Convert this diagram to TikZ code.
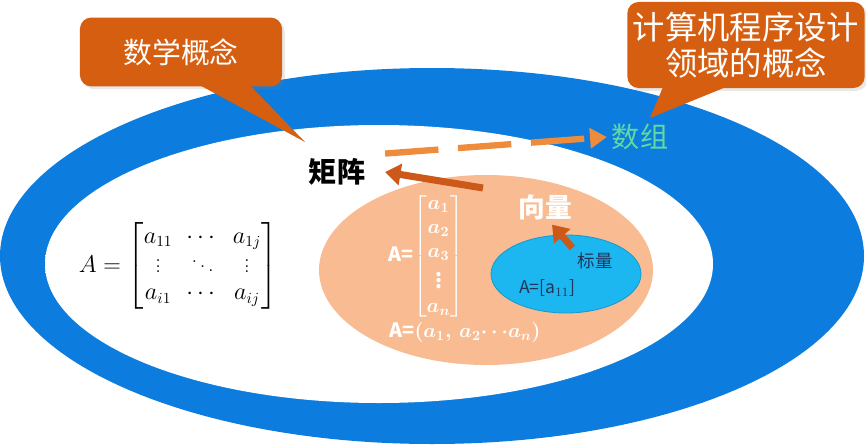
\documentclass[tikz,border=0pt]{standalone}
\usepackage{amsmath}
\usepackage{fontspec}
\newfontfamily\cjk{Noto Sans CJK SC}
\usetikzlibrary{arrows.meta,shadows}

\definecolor{ringblue}{RGB}{12,125,222}
\definecolor{glowblue}{RGB}{214,234,249}
\definecolor{salmon}{RGB}{249,188,146}
\definecolor{scalarblue}{RGB}{28,182,240}
\definecolor{calloutorange}{RGB}{214,94,16}
\definecolor{arroworange}{RGB}{204,88,26}
\definecolor{dashorange}{RGB}{238,140,60}
\definecolor{arraygreen}{RGB}{96,218,160}
\definecolor{navytext}{RGB}{30,55,90}

\pgfdeclareradialshading{innerglow}{\pgfpoint{0bp}{0bp}}{color(0bp)=(white); color(32bp)=(white); color(50bp)=(glowblue)}

\begin{document}
\begin{tikzpicture}[x=0.025cm, y=-0.025cm,
    callout/.style ={fill=calloutorange, rounded corners=8pt, text=white, align=center,
                     drop shadow={opacity=0.18, shadow xshift=2pt, shadow yshift=-2pt}},
    bigarrow/.style ={draw=arroworange, line width=5pt, -{Triangle[length=11pt, width=15pt]}},
    dasharrow/.style ={draw=dashorange, line width=4.5pt, dash pattern=on 38pt off 14pt,
                       -{Triangle[length=12pt, width=14pt]}}]
   \useasboundingbox (0,0) rectangle (866,447);

   % nested sets
   \fill[ringblue] (432,256) ellipse [x radius=432, y radius=188];
   \shade[shading=innerglow] (379,264) ellipse [x radius=334, y radius=139];
   \fill[salmon] (486,270) ellipse [x radius=167, y radius=95];
   \filldraw[fill=scalarblue, draw=scalarblue!85!black, line width=0.6pt] (566,274) ellipse [x radius=75, y radius=39];

   % callouts
   \node[callout, minimum width=5.05cm, minimum height=1.72cm,
         font=\cjk\fontsize{20.5}{24}\selectfont] (mathcall) at (181,52) {数学概念};
   \coordinate (mathtip) at (305,142);
   \fill[calloutorange] ([xshift=13.5pt, yshift=1pt]mathcall.south) -- (mathtip)
        -- ([xshift=49pt, yshift=1pt]mathcall.south) -- cycle;

   \node[callout, minimum width=5.93cm, minimum height=2.15cm,
         font=\cjk\fontsize{23}{26}\selectfont] (cscall) at (746,45) {计算机程序设计\\领域的概念};
   \coordinate (cstip) at (650,118);
   \fill[calloutorange] ([xshift=-59pt, yshift=1pt]cscall.south) -- (cstip)
        -- ([xshift=-14pt, yshift=1pt]cscall.south) -- cycle;

   % labels
   \node[font=\cjk\bfseries\fontsize{20}{24}\selectfont, inner xsep=14pt] (juzhen) at (337,172) {矩阵};
   \node[font=\cjk\fontsize{20}{24}\selectfont, text=arraygreen] (shuzu) at (640,137) {数组};
   \node[font=\cjk\bfseries\fontsize{19}{22}\selectfont, text=white] (xiangliang) at (545,207) {向量};
   \node[font=\cjk\fontsize{12.5}{15}\selectfont, text=navytext] (biaoliang) at (595,261) {标量};
   \node[font=\cjk\fontsize{12.5}{15}\selectfont, text=navytext] (scalarval) at (547,288) {A=[a$_{11}$]};

   \node[font=\cjk\bfseries\fontsize{14}{17}\selectfont\boldmath, text=white] (colvec) at (426,256)
        {A=$\left[\begin{matrix}a_1\\ a_2\\ a_3\\ \vdots\\ a_n\end{matrix}\right]$};
   \node[font=\cjk\bfseries\fontsize{14}{17}\selectfont\boldmath, text=white] (rowvec) at (465,332)
        {A=$(a_1,\,a_2{\cdots}a_n)$};

   \node[font=\fontsize{16}{19}\selectfont] (bigmat) at (178,266)
        {$A=\begin{bmatrix}a_{11}&\cdots&a_{1j}\\ \vdots&\ddots&\vdots\\ a_{i1}&\cdots&a_{ij}\end{bmatrix}$};

   % arrows
   \coordinate (vectail) at (483,188);
   \draw[bigarrow] (vectail) -- (juzhen.east);
   \draw[bigarrow] (biaoliang.north west) -- ([xshift=5pt]xiangliang.south);
   \draw[dasharrow] (juzhen.north east) -- (shuzu.west);
 \end{tikzpicture}
\end{document}
